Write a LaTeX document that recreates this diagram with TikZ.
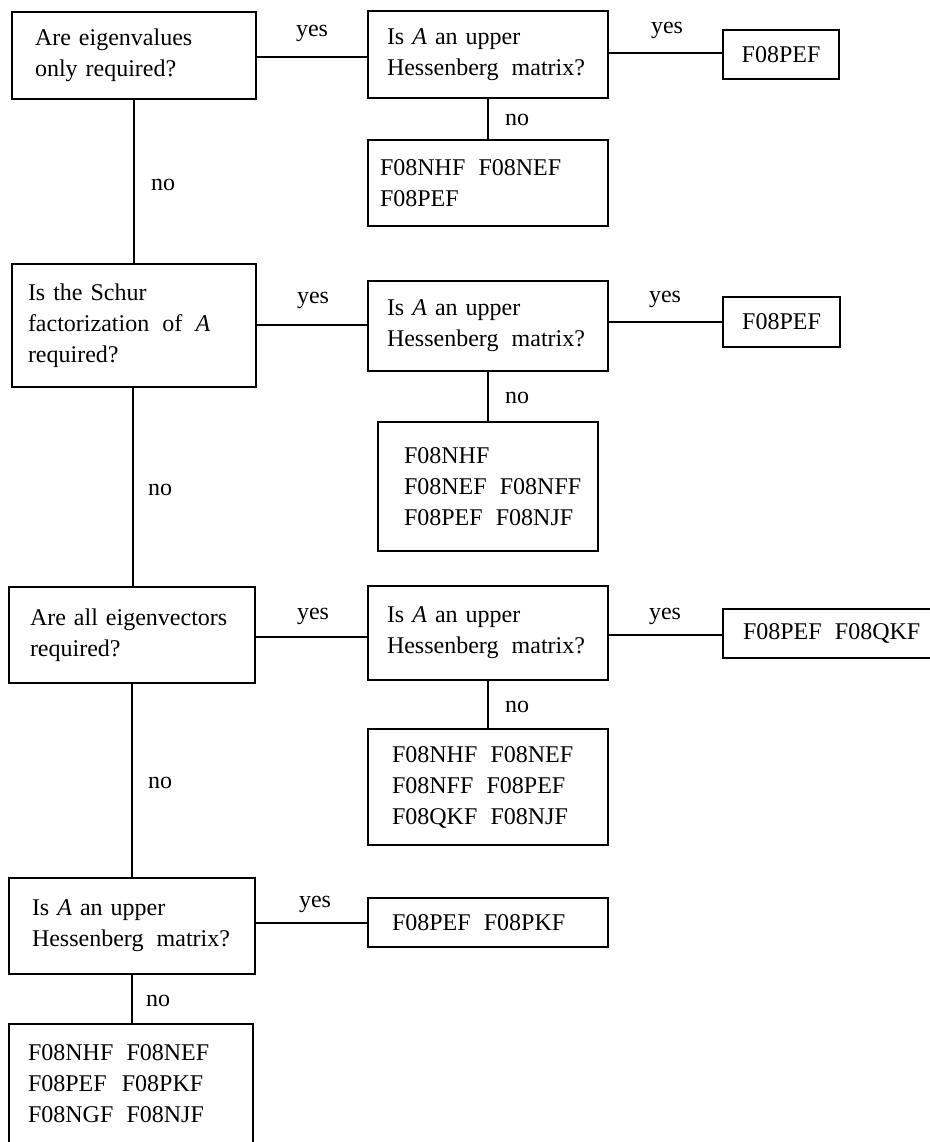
\documentclass[tikz,border=0pt]{standalone}
\usepackage{fontspec}
\setmainfont{Liberation Serif}
\newcommand{\cgap}{\hspace{0.55em}}
\begin{document}
\begin{tikzpicture}[x=1pt,y=-1pt,
  every node/.style={font=\fontsize{24}{31}\selectfont},
  box/.style={draw, line width=2pt, rectangle, align=left, inner ysep=0pt},
  lbl/.style={anchor=base, inner sep=0pt},
  link/.style={line width=2pt}]
\useasboundingbox (0,0) rectangle (929,1142);

% question column
\node[box, minimum width=244, minimum height=87, inner xsep=23, text width=198] (Q1) at (134,55.5)
  {\mbox{Are eigenvalues}\\only required?};
\node[box, minimum width=244, minimum height=123, inner xsep=16, text width=212] (Q2) at (134,325.5)
  {Is the Schur\\\mbox{factorization\cgap of\cgap\textit{A}}\\required?};
\node[box, minimum width=246, minimum height=96, inner xsep=21, text width=204] (Q3) at (132,635)
  {\mbox{Are all eigenvectors}\\required?};
\node[box, minimum width=246, minimum height=96, inner xsep=23, text width=200] (Q4) at (132,926)
  {Is \textit{A} an upper\\\mbox{Hessenberg\cgap matrix?}};

% Hessenberg tests
\node[box, minimum width=240, minimum height=87, inner xsep=19, text width=202] (H1) at (488,54.5)
  {Is \textit{A} an upper\\\mbox{Hessenberg\cgap matrix?}};
\node[box, minimum width=240, minimum height=90, inner xsep=19, text width=202] (H2) at (488,326)
  {Is \textit{A} an upper\\\mbox{Hessenberg\cgap matrix?}};
\node[box, minimum width=240, minimum height=94, inner xsep=19, text width=202] (H3) at (488,633)
  {\raisebox{3pt}{\parbox{202pt}{Is \textit{A} an upper\\\mbox{Hessenberg\cgap matrix?}}}};

% routine boxes
\node[box, minimum width=116, minimum height=49, align=center] (P1) at (781,54.5) {F08PEF};
\node[box, minimum width=117, minimum height=50, align=center] (P2) at (781.5,322) {F08PEF};
\node[box, minimum width=227, minimum height=49, inner xsep=20, text width=187] (P3) at (836.5,633.5)
  {\mbox{F08PEF\cgap F08QKF}};
\node[box, minimum width=240, minimum height=49, inner xsep=24, text width=192] (P4) at (488,922.5)
  {\mbox{F08PEF\cgap F08PKF}};

\node[box, minimum width=240, minimum height=85, inner xsep=12, text width=216] (R1) at (488,183)
  {\mbox{F08NHF\cgap F08NEF}\\F08PEF};
\node[box, minimum width=220, minimum height=129, inner xsep=26, text width=168] (R2) at (488,486.5)
  {F08NHF\\\mbox{F08NEF\cgap F08NFF}\\\mbox{F08PEF\cgap F08NJF}};
\node[box, minimum width=240, minimum height=116, inner xsep=24, text width=192] (R3) at (488,787)
  {\mbox{F08NHF\cgap F08NEF}\\\mbox{F08NFF\cgap F08PEF}\\\mbox{F08QKF\cgap F08NJF}};
\node[box, minimum width=244, minimum height=120, inner xsep=19, text width=206] (R4) at (131,1084)
  {\mbox{F08NHF\cgap F08NEF}\\\mbox{F08PEF\hspace{0.3em} F08PKF}\\\mbox{F08NGF\cgap F08NJF}};

% connectors
\draw[link] (Q1.south) -- (Q1.south |- Q2.north);
\draw[link] ([xshift=-1]Q2.south) -- ([xshift=-1]Q2.south |- Q3.north);
\draw[link] (Q3.south) -- (Q3.south |- Q4.north);
\draw[link] (Q4.south) -- (Q4.south |- R4.north);

\draw[link] ([yshift=-1.5]Q1.east) -- ([yshift=-1.5]Q1.east -| H1.west);
\draw[link] ([yshift=0.5]Q2.east) -- ([yshift=0.5]Q2.east -| H2.west);
\draw[link] ([yshift=-2]Q3.east) -- ([yshift=-2]Q3.east -| H3.west);
\draw[link] ([yshift=3]Q4.east) -- ([yshift=3]Q4.east -| P4.west);

\draw[link] ([yshift=1.5]H1.east) -- ([yshift=1.5]H1.east -| P1.west);
\draw[link] (P2.west -| H2.east) -- (P2.west);
\draw[link] ([yshift=-2]H3.east) -- ([yshift=-2]H3.east -| P3.west);

\draw[link] (H1.south) -- (H1.south |- R1.north);
\draw[link] (H2.south) -- (H2.south |- R2.north);
\draw[link] (H3.south) -- (H3.south |- R3.north);

% branch labels
\node[lbl] (y1) at (312,37) {yes};
\node[lbl] (y2) at (667,34) {yes};
\node[lbl] (n1) at (163,190) {no};
\node[lbl] (n2) at (517,126) {no};
\node[lbl] (y3) at (313,303) {yes};
\node[lbl] (y4) at (665,302) {yes};
\node[lbl] (n3) at (160,495) {no};
\node[lbl] (n4) at (517,403) {no};
\node[lbl] (y5) at (313,619) {yes};
\node[lbl] (y6) at (665,619) {yes};
\node[lbl] (n5) at (160,788) {no};
\node[lbl] (n6) at (517,712) {no};
\node[lbl] (y7) at (315,907) {yes};
\node[lbl] (n7) at (158,1006) {no};
\end{tikzpicture}
\end{document}
